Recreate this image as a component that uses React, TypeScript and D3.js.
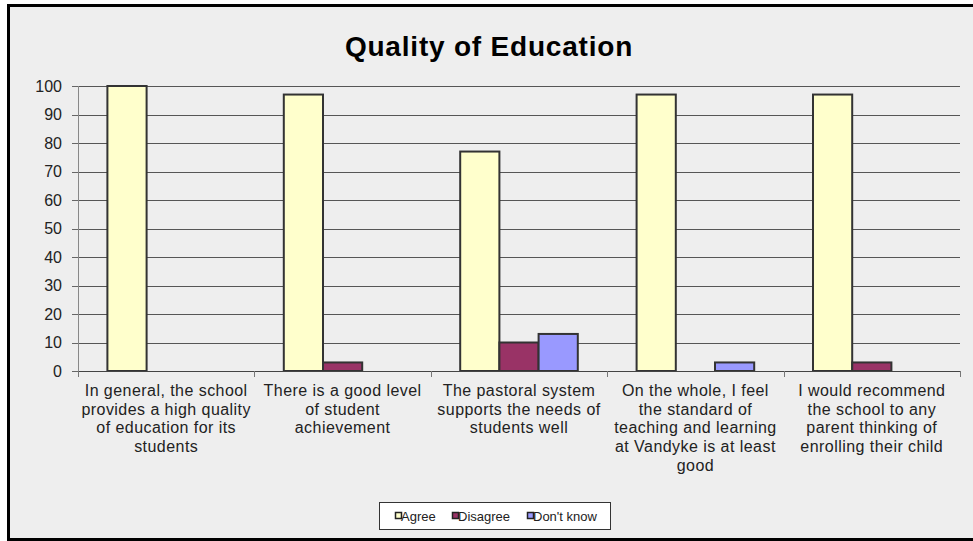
import React from "react";
import * as d3 from "d3";

const categories: string[][] = [
  ["In general, the school", "provides a high quality", "of education for its", "students"],
  ["There is a good level", "of student", "achievement"],
  ["The pastoral system", "supports the needs of", "students well"],
  ["On the whole, I feel", "the standard of", "teaching and learning", "at Vandyke is at least", "good"],
  ["I would recommend", "the school to any", "parent thinking of", "enrolling their child"],
];
const seriesNames = ["Agree", "Disagree", "Don't know"];
const agree = [100, 97, 77, 97, 97];
const disagree = [0, 3, 10, 0, 3];
const dontKnow = [0, 0, 13, 3, 0];
const colors = ["#FFFFCC", "#993366", "#9999FF"];
const yTicks = [0, 10, 20, 30, 40, 50, 60, 70, 80, 90, 100];

export default function App() {
  const W = 973, H = 541;
  const left = 78, right = 960, top = 86, bottom = 371;
  const font = "Arial, 'Liberation Sans', sans-serif";
  const series = [agree, disagree, dontKnow];
  const idx = categories.map((_, i) => i);
  const x0 = d3.scaleBand<number>().domain(idx).range([left, right]).paddingInner(0).paddingOuter(0);
  const bw = x0.bandwidth();
  const barW = bw / 4.5;
  const y = d3.scaleLinear().domain([0, 100]).range([bottom, top]);

  return (
    <div style={{ position: "fixed", left: 0, top: 0 }}>
      <svg width={W} height={H} style={{ display: "block", background: "#fff" }}>
        <rect x={8.5} y={5.5} width={970} height={534} fill="#EEEEEE" stroke="#000" strokeWidth={3} />
        <text x={489} y={56} textAnchor="middle" fontFamily={font} fontWeight="bold" fontSize={28} letterSpacing={0.8} fill="#000">
          Quality of Education
        </text>
        {yTicks.map((t) => (
          <g key={t}>
            {t > 0 && (
              <line x1={left} x2={right} y1={Math.round(y(t)) + 0.5} y2={Math.round(y(t)) + 0.5} stroke="#555" strokeWidth={1} />
            )}
            <line x1={left - 6} x2={left} y1={Math.round(y(t)) + 0.5} y2={Math.round(y(t)) + 0.5} stroke="#666" />
            <text x={62} y={y(t)} dy="0.36em" textAnchor="end" fontFamily={font} fontSize={16} fill="#222">
              {t}
            </text>
          </g>
        ))}
        <line x1={left + 0.5} x2={left + 0.5} y1={top} y2={bottom} stroke="#888" />
        {series.map((vals, s) =>
          vals.map((v, i) =>
            v > 0 ? (
              <rect
                key={s + "-" + i}
                x={(x0(i) as number) + (bw - 3 * barW) / 2 + s * barW}
                y={y(v)}
                width={barW}
                height={bottom - y(v)}
                fill={colors[s]}
                stroke="#333"
                strokeWidth={2}
              />
            ) : null
          )
        )}
        <line x1={left} x2={right} y1={bottom + 0.5} y2={bottom + 0.5} stroke="#444" />
        {d3.range(categories.length + 1).map((i) => {
          const xx = Math.round(left + i * bw) + 0.5;
          return <line key={i} x1={xx} x2={xx} y1={bottom} y2={bottom + 6} stroke="#777" />;
        })}
        {categories.map((lines, i) => (
          <text key={i} textAnchor="middle" fontFamily={font} fontSize={16} letterSpacing={0.45} fill="#222">
            {lines.map((ln, j) => (
              <tspan key={j} x={(x0(i) as number) + bw / 2} y={396 + j * 18.7}>
                {ln}
              </tspan>
            ))}
          </text>
        ))}
        <rect x={379.5} y={502.5} width={231} height={27} fill="#fff" stroke="#333" />
        {seriesNames.map((n, s) => {
          const xs = [395, 452, 527][s];
          return (
            <g key={n}>
              <rect x={xs + 0.5} y={512.5} width={6} height={6} fill={colors[s]} stroke="#222" strokeWidth={1.5} />
              <text x={xs + 6} y={516} dy="0.35em" fontFamily={font} fontSize={13} fill="#222">
                {n}
              </text>
            </g>
          );
        })}
      </svg>
    </div>
  );
}
